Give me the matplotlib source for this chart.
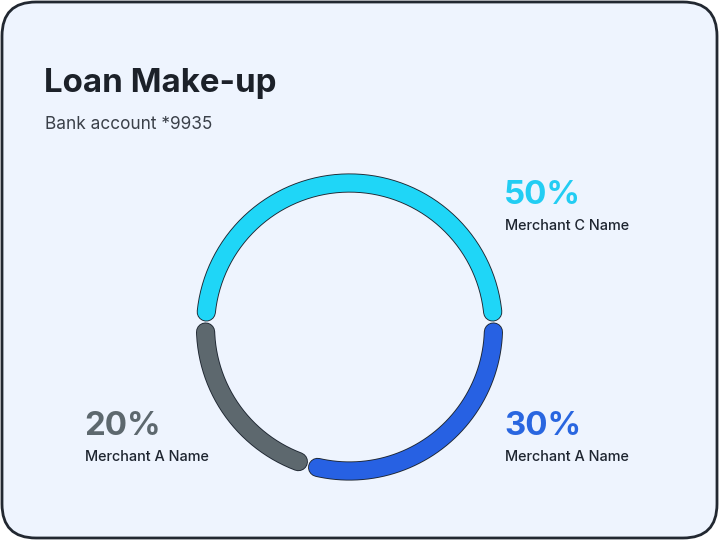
import numpy as np
import matplotlib.pyplot as plt
from matplotlib.patches import FancyBboxPatch
import matplotlib.patheffects as pe

plt.rcParams['font.family'] = ['Inter', 'DejaVu Sans']

title = "Loan Make-up"
subtitle = "Bank account *9935"
names = ["Merchant C Name", "Merchant A Name", "Merchant A Name"]
shares = [50, 30, 20]
colors = ["#1FD6F7", "#2761E3", "#5D686E"]
label_colors = ["#22CDF3", "#2966E0", "#5D686E"]

W, H = 719, 540
fig = plt.figure(figsize=(W / 100, H / 100), dpi=100)
ax = fig.add_axes([0, 0, 1, 1])
ax.set_xlim(0, W)
ax.set_ylim(H, 0)
ax.axis("off")

card = FancyBboxPatch((2, 2), W - 4, H - 4, boxstyle="round,pad=0,rounding_size=34",
                      facecolor="#EEF4FE", edgecolor="#222831", linewidth=2)
ax.add_patch(card)

ax.text(44, 92, title, fontsize=23.8, fontweight="bold", color="#1C2129", va="baseline")
ax.text(45, 129, subtitle, fontsize=12.4, color="#3A4049", va="baseline")

# ring
cx, cy, r = 349.5, 327, 144
gap = 8.0
span = 360 - gap * len(shares)
start = 174.0
total = sum(shares)
for share, col in zip(shares, colors):
    sweep = span * share / total
    th = np.radians(np.linspace(start, start - sweep, 200))
    ax.plot(cx + r * np.cos(th), cy - r * np.sin(th), color=col, lw=12.5,
            solid_capstyle="round",
            path_effects=[pe.Stroke(linewidth=13.8, foreground="#1E2631"), pe.Normal()])
    start -= sweep + gap

# labels
label_pos = [(504, 204), (504, 435), (84, 435)]
for (x, y), share, name, lc in zip(label_pos, shares, names, label_colors):
    ax.text(x, y, f"{share}%", fontsize=23.8, fontweight="bold", color=lc, va="baseline")
    ax.text(x + 1, y + 26, name, fontsize=10.4, fontweight="medium", color="#1E2530", va="baseline")

fig.savefig("out.png", dpi=100)
